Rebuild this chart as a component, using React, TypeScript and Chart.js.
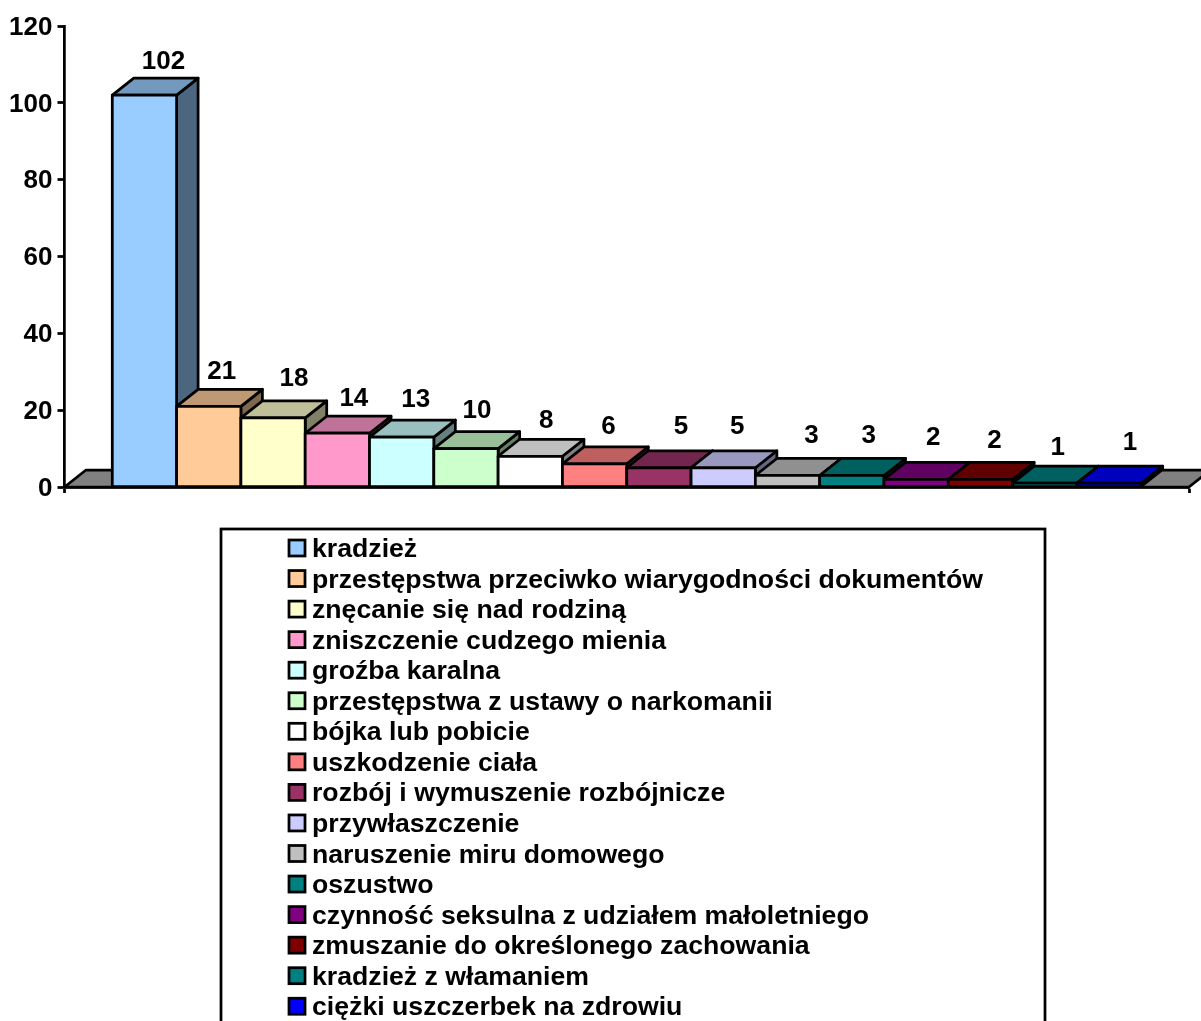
import React, { useEffect, useRef } from "react";
import { Chart, registerables } from "chart.js";

Chart.register(...registerables);

const categories = [
  "kradzież",
  "przestępstwa przeciwko wiarygodności dokumentów",
  "znęcanie się nad rodziną",
  "zniszczenie cudzego mienia",
  "groźba karalna",
  "przestępstwa z ustawy o narkomanii",
  "bójka lub pobicie",
  "uszkodzenie ciała",
  "rozbój i wymuszenie rozbójnicze",
  "przywłaszczenie",
  "naruszenie miru domowego",
  "oszustwo",
  "czynność seksulna z udziałem małoletniego",
  "zmuszanie do określonego zachowania",
  "kradzież z włamaniem",
  "ciężki uszczerbek na zdrowiu",
];
const values = [102, 21, 18, 14, 13, 10, 8, 6, 5, 5, 3, 3, 2, 2, 1, 1];
const colors = [
  "#99CCFF", "#FFCC99", "#FFFFCC", "#FF99CC", "#CCFFFF", "#CCFFCC", "#FFFFFF", "#FF8080",
  "#993366", "#CCCCFF", "#C0C0C0", "#008080", "#800080", "#800000", "#008080", "#0000FF",
];
const yTicks = [0, 20, 40, 60, 80, 100, 120];
// Hand placement of the value labels relative to each bar's top centre.
const labelShiftX = [19, 13, 21, 16.5, 14, 11, 16, 14, 22, 14, 24, 17, 17, 14, 13, 21];
const labelShiftY = [-33, -34.5, -39.5, -34.5, -37.5, -37.5, -35.5, -37.5, -40.5, -40.5, -40, -40, -41.5, -38.5, -35.5, -40.5];

const FONT = '"Liberation Sans", Arial, sans-serif';
const DX = 21.5;
const DY = -17;
const LINE = 2.75;

function shade(hex: string, k: number) {
  const n = parseInt(hex.slice(1), 16);
  const r = Math.round(((n >> 16) & 255) * k);
  const g = Math.round(((n >> 8) & 255) * k);
  const b = Math.round((n & 255) * k);
  return `rgb(${r},${g},${b})`;
}

function poly(ctx: CanvasRenderingContext2D, pts: number[][], fill: string) {
  ctx.beginPath();
  pts.forEach((p, i) => (i ? ctx.lineTo(p[0], p[1]) : ctx.moveTo(p[0], p[1])));
  ctx.closePath();
  ctx.fillStyle = fill;
  ctx.fill();
  ctx.strokeStyle = "#000";
  ctx.lineWidth = LINE;
  ctx.lineJoin = "round";
  ctx.stroke();
}

const bar3d = {
  id: "bar3d",
  beforeDatasetsDraw(chart: any) {
    const { ctx, chartArea: a } = chart;
    ctx.save();
    poly(
      ctx,
      [
        [a.left, a.bottom],
        [a.left + DX, a.bottom + DY],
        [a.right + DX, a.bottom + DY],
        [a.right, a.bottom],
      ],
      "#808080"
    );
    // Painted left to right, so each bar's front covers its left neighbour's side.
    values.forEach((_, i) => {
      const el = chart.getDatasetMeta(i).data[0];
      const l = el.x - el.width / 2;
      const r = el.x + el.width / 2;
      const c = colors[i];
      poly(ctx, [[r, el.y], [r + DX, el.y + DY], [r + DX, el.base + DY], [r, el.base]], shade(c, 0.5));
      poly(ctx, [[l, el.y], [l + DX, el.y + DY], [r + DX, el.y + DY], [r, el.y]], shade(c, 0.75));
      el.draw(ctx);
      ctx.strokeStyle = "#000";
      ctx.lineWidth = LINE;
      ctx.strokeRect(l, el.y, el.width, el.base - el.y);
    });
    ctx.restore();
  },
  beforeDatasetDraw() {
    return false;
  },
  afterDatasetsDraw(chart: any) {
    const { ctx } = chart;
    ctx.save();
    ctx.fillStyle = "#000";
    ctx.font = `bold 26px ${FONT}`;
    ctx.textAlign = "center";
    ctx.textBaseline = "middle";
    values.forEach((v, i) => {
      const el = chart.getDatasetMeta(i).data[0];
      ctx.fillText(String(v), el.x + labelShiftX[i], el.y + labelShiftY[i]);
    });
    ctx.restore();
  },
  afterDraw(chart: any) {
    const { ctx } = chart;
    ctx.save();
    ctx.strokeStyle = "#000";
    ctx.lineWidth = LINE;
    ctx.strokeRect(221, 529, 824, 520);
    ctx.font = `bold 26.67px ${FONT}`;
    ctx.textAlign = "left";
    ctx.textBaseline = "alphabetic";
    categories.forEach((name, i) => {
      const y = 557 + i * 30.55;
      ctx.fillStyle = colors[i];
      ctx.fillRect(289, y - 17, 16, 16);
      ctx.strokeRect(289, y - 17, 16, 16);
      ctx.fillStyle = "#000";
      ctx.fillText(name, 312, y);
    });
    ctx.restore();
  },
};

export default function App() {
  const ref = useRef<HTMLCanvasElement>(null);
  useEffect(() => {
    const chart = new Chart(ref.current!, {
      type: "bar",
      data: {
        labels: [""],
        datasets: categories.map((label, i) => ({
          label,
          data: [values[i]],
          backgroundColor: colors[i],
          borderWidth: 0,
          categoryPercentage: 0.915,
          barPercentage: 1,
        })),
      },
      plugins: [bar3d],
      options: {
        animation: false,
        responsive: false,
        devicePixelRatio: 1,
        layout: { padding: { left: 0, right: 12, top: 26, bottom: 0 } },
        plugins: { legend: { display: false }, tooltip: { enabled: false }, title: { display: false } },
        scales: {
          x: {
            afterFit: (s: any) => { s.height = 534; },
            ticks: { display: false },
            border: { display: true, color: "#000", width: LINE, z: 1 },
            grid: {
              display: true,
              offset: true,
              drawOnChartArea: false,
              drawTicks: true,
              tickLength: 6,
              tickWidth: LINE,
              tickColor: "#000",
              z: 1,
            },
          },
          y: {
            min: 0,
            max: yTicks[yTicks.length - 1],
            afterFit: (s: any) => { s.width = 64.5; },
            afterBuildTicks: (s: any) => { s.ticks = yTicks.map((value) => ({ value })); },
            ticks: {
              color: "#000",
              padding: 5,
              labelOffset: 1.5,
              font: { family: FONT, size: 26, weight: "bold" },
            },
            border: { display: true, color: "#000", width: LINE, z: 1 },
            grid: {
              display: true,
              drawOnChartArea: false,
              drawTicks: true,
              tickLength: 7,
              tickWidth: LINE,
              tickColor: "#000",
            },
          },
        },
      },
    } as any);
    return () => chart.destroy();
  }, []);
  return (
    <canvas
      ref={ref}
      width={1201}
      height={1021}
      style={{ position: "absolute", left: 0, top: 0, width: 1201, height: 1021, display: "block" }}
    />
  );
}
